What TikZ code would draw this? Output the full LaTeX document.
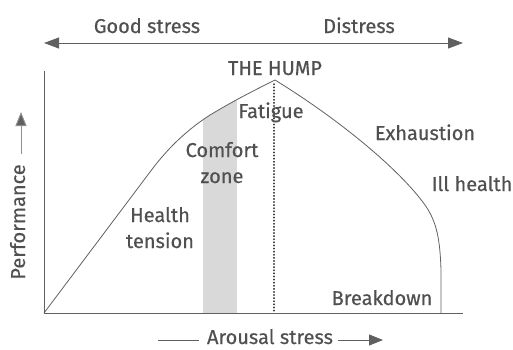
\documentclass[tikz,border=0pt]{standalone}
\usepackage{fontspec}
\setmainfont{Fira Sans}[FakeBold=0.5]
\usetikzlibrary{arrows.meta}
\definecolor{txt}{HTML}{505050}
\definecolor{ln}{HTML}{606060}
\definecolor{band}{HTML}{D9D9D9}
\begin{document}
\begin{tikzpicture}[x=1pt,y=-1pt,
  lbl/.style={text=txt,font=\fontsize{20}{26}\selectfont,inner sep=0pt,align=center,anchor=base},
  axisline/.style={draw=ln,line width=0.9pt},
  curveline/.style={draw=ln,line width=0.8pt},
  dblarrow/.style={draw=ln,line width=0.9pt,{Triangle[length=15pt,width=11pt]}-{Triangle[length=15pt,width=11pt]}},
  dotline/.style={draw=black!75,line width=1.5pt,line cap=round,dash pattern=on 0.5pt off 2.6pt}]
\useasboundingbox (0,0) rectangle (513,349);
% coordinates
\coordinate (tl) at (44,43);
\coordinate (tr) at (463,43);
\coordinate (o) at (44,313);
\coordinate (ytop) at (44,71);
\coordinate (xend) at (463,313);
\coordinate (peak) at (275,80);
\coordinate (dotbot) at (274,313);
\coordinate (pa) at (21,154);
\coordinate (pb) at (21,112);
% comfort band clipped under the curve
\begin{scope}
  \clip (o) -- (150,172) .. controls (170,145) and (190,128) .. (210,115)
        .. controls (235,100) and (255,90) .. (peak) -- (275,313) -- cycle;
  \fill[band] (203,60) rectangle (237,313);
\end{scope}
% axes
\draw[axisline] (ytop) -- (o) -- (xend);
% curve
\draw[curveline] (o) -- (150,172) .. controls (170,145) and (190,128) .. (210,115)
      .. controls (235,100) and (255,90) .. (peak)
      .. controls (340,120) and (400,170) .. (425,205)
      .. controls (437,222) and (440,240) .. (441,270) -- (441,313);
% dotted line
\draw[dotline] (274,84) -- (dotbot);
% top arrow
\draw[dblarrow] (tl) -- (tr);
% labels
\node[lbl] (good) at (147,33) {Good stress};
\node[lbl] (dis) at (359,33) {Distress};
\node[lbl] (hump) at (275,75) {THE HUMP};
\node[lbl] (fat) at (271,118) {Fatigue};
\node[lbl] (comf) at (222,183) {Comfort\\zone};
\node[lbl] (health) at (160,248) {Health\\tension};
\node[lbl] (exh) at (425,140) {Exhaustion};
\node[lbl] (ill) at (472,191) {Ill health};
\node[lbl] (brk) at (382,305) {Breakdown};
\node[lbl,rotate=90] (perf) at (25,222) {Performance};
\node[lbl] (arous) at (270,344) {Arousal stress};
% axis title arrows
\draw[draw=ln!70,line width=0.9pt,-{Triangle[length=14pt,width=11pt,fill=ln]}] (pa) -- (pb);
\coordinate (al) at (158,340);
\coordinate (ar) at (383,340);
\draw[draw=ln,line width=0.9pt] (al) -- ([xshift=-8pt]arous.west |- al);
\draw[draw=ln,line width=0.9pt,-{Triangle[length=14pt,width=11pt]}] ([xshift=5pt]arous.east |- ar) -- (ar);
\end{tikzpicture}
\end{document}
